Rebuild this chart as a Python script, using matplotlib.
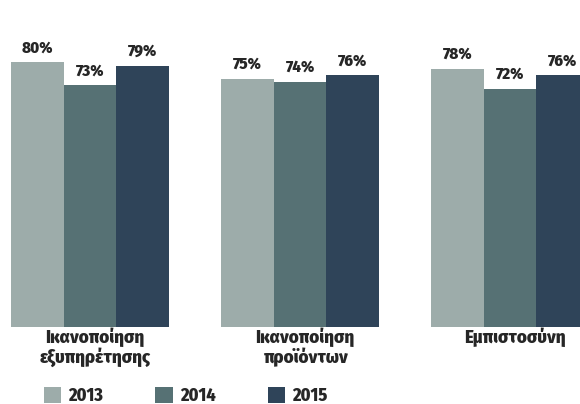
"""Satisfaction survey: grouped bars per year."""

import matplotlib.pyplot as plt
import numpy as np

categories = ["Ικανοποίηση\nεξυπηρέτησης", "Ικανοποίηση\nπροϊόντων", "Εμπιστοσύνη"]
years = ["2013", "2014", "2015"]
values_2013 = [80, 75, 78]
values_2014 = [73, 74, 72]
values_2015 = [79, 76, 76]

colors = ["#9dacaa", "#567174", "#2f4459"]
font = ["Fira Sans Condensed", "Roboto Condensed", "DejaVu Sans"]
text_color = "#262626"
weight = 800


def main() -> None:
    plt.rcParams["font.family"] = font
    fig = plt.figure(figsize=(5.8, 4.04), dpi=100)
    ax = fig.add_axes([0, 77 / 404, 1, 327 / 404])

    x = np.arange(len(categories))
    width = 0.25
    series = [values_2013, values_2014, values_2015]
    bars = []
    for i, (year, vals) in enumerate(zip(years, series)):
        b = ax.bar(x + (i - 1) * width, vals, width, color=colors[i], label=year)
        bars.append(b)
        for rect, v in zip(b, vals):
            ax.text(
                rect.get_x() + rect.get_width() / 2,
                v + 2.0,
                f"{v}%",
                ha="center",
                va="bottom",
                fontsize=12,
                fontweight=weight,
                color=text_color,
            )

    ax.set_xlim(-90 / 210, 490 / 210)
    ax.set_ylim(0, 327 / 3.31)
    ax.axis("off")

    # Category labels under each group
    for xi, cat in zip(x, categories):
        ax.text(
            xi + 0.025,
            -0.1,
            cat,
            ha="center",
            va="top",
            fontsize=13.5,
            fontweight=weight,
            color=text_color,
            linespacing=1.05,
        )

    fig.legend(
        handles=bars,
        labels=years,
        loc="lower left",
        bbox_to_anchor=(0.06, -0.025),
        ncol=3,
        frameon=False,
        borderpad=0,
        handlelength=0.95,
        handleheight=0.95,
        handletextpad=0.4,
        columnspacing=2.9,
        prop={"family": font, "weight": weight, "size": 13},
        labelcolor=text_color,
    )

    fig.savefig("out.png", dpi=100)


if __name__ == "__main__":
    main()
